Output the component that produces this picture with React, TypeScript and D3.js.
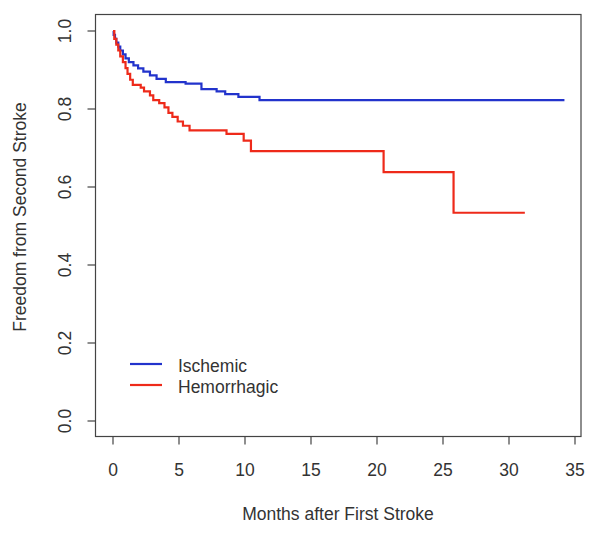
import React from "react";
import * as d3 from "d3";

const ischemicTimes = [0, 0.05, 0.15, 0.25, 0.4, 0.55, 0.75, 0.95, 1.2, 1.55, 1.9, 2.3, 2.8, 3.3, 4.0, 5.5, 6.7, 7.85, 8.5, 9.5, 11.1, 34.2];
const ischemicSurv = [1.0, 0.99, 0.98, 0.97, 0.96, 0.95, 0.94, 0.93, 0.92, 0.912, 0.904, 0.896, 0.886, 0.877, 0.869, 0.865, 0.851, 0.845, 0.838, 0.831, 0.823, 0.823];

const hemorrhagicTimes = [0, 0.1, 0.25, 0.4, 0.55, 0.75, 0.95, 1.1, 1.3, 1.5, 2.1, 2.35, 2.8, 3.05, 3.5, 3.9, 4.2, 4.5, 4.9, 5.3, 5.8, 8.6, 9.9, 10.45, 20.5, 25.8, 31.2];
const hemorrhagicSurv = [1.0, 0.98, 0.965, 0.95, 0.935, 0.92, 0.905, 0.89, 0.875, 0.862, 0.855, 0.845, 0.835, 0.823, 0.815, 0.804, 0.79, 0.78, 0.768, 0.757, 0.745, 0.736, 0.719, 0.692, 0.638, 0.534, 0.534];

const seriesNames = ["Ischemic", "Hemorrhagic"];
const seriesColors = ["#2233cc", "#ee2a1a"];

const xTicks = [0, 5, 10, 15, 20, 25, 30, 35];
const yTicks = [0, 0.2, 0.4, 0.6, 0.8, 1.0];
const yTickLabels = ["0.0", "0.2", "0.4", "0.6", "0.8", "1.0"];

const W = 604, H = 533;
const box = { left: 95.5, right: 581, top: 14.5, bottom: 436.5 };

export default function App() {
  const x = d3.scaleLinear().domain([0, 35]).range([113, 575]);
  const y = d3.scaleLinear().domain([0, 1]).range([421, 31]);
  const line = d3.line<[number, number]>()
    .x(d => x(d[0]))
    .y(d => y(d[1]))
    .curve(d3.curveStepAfter);

  const series = [
    ischemicTimes.map((t, i) => [t, ischemicSurv[i]] as [number, number]),
    hemorrhagicTimes.map((t, i) => [t, hemorrhagicSurv[i]] as [number, number]),
  ];
  const textColor = "#333";
  const font = "Liberation Sans, Arial, sans-serif";
  const fs = 17.5;

  return (
    <svg width={W} height={H} style={{ position: "absolute", left: 0, top: 0, background: "#fff" }} fontFamily={font}>
      <rect x={0} y={0} width={W} height={H} fill="#fff" />
      <rect x={box.left} y={box.top} width={box.right - box.left} height={box.bottom - box.top} fill="none" stroke="#444" strokeWidth={1.2} />
      {/* x axis */}
      <line x1={x(0)} x2={x(35)} y1={box.bottom} y2={box.bottom} stroke="#444" strokeWidth={1.2} />
      {xTicks.map(t => (
        <g key={"x" + t}>
          <line x1={x(t)} x2={x(t)} y1={box.bottom} y2={box.bottom + 8} stroke="#444" strokeWidth={1.2} />
          <text x={x(t)} y={470} fill={textColor} fontSize={fs} textAnchor="middle" dominantBaseline="central">{t}</text>
        </g>
      ))}
      {/* y axis */}
      {yTicks.map((t, i) => (
        <g key={"y" + t}>
          <line x1={box.left - 8} x2={box.left} y1={y(t)} y2={y(t)} stroke="#444" strokeWidth={1.2} />
          <text transform={`translate(${65},${y(t)}) rotate(-90)`} fill={textColor} fontSize={fs} textAnchor="middle" dominantBaseline="central">{yTickLabels[i]}</text>
        </g>
      ))}
      <text x={338} y={514} fill={textColor} fontSize={fs} textAnchor="middle" dominantBaseline="central">Months after First Stroke</text>
      <text transform={`translate(${20},${217}) rotate(-90)`} fill={textColor} fontSize={fs} textAnchor="middle" dominantBaseline="central">Freedom from Second Stroke</text>
      {series.map((s, i) => (
        <path key={i} d={line(s) || ""} fill="none" stroke={seriesColors[i]} strokeWidth={2.2} />
      ))}
      {/* legend */}
      {seriesNames.map((n, i) => (
        <g key={n}>
          <line x1={130} x2={162} y1={364 + i * 21} y2={364 + i * 21} stroke={seriesColors[i]} strokeWidth={2.2} />
          <text x={178} y={366 + i * 21} fill={textColor} fontSize={fs} dominantBaseline="central">{n}</text>
        </g>
      ))}
    </svg>
  );
}
